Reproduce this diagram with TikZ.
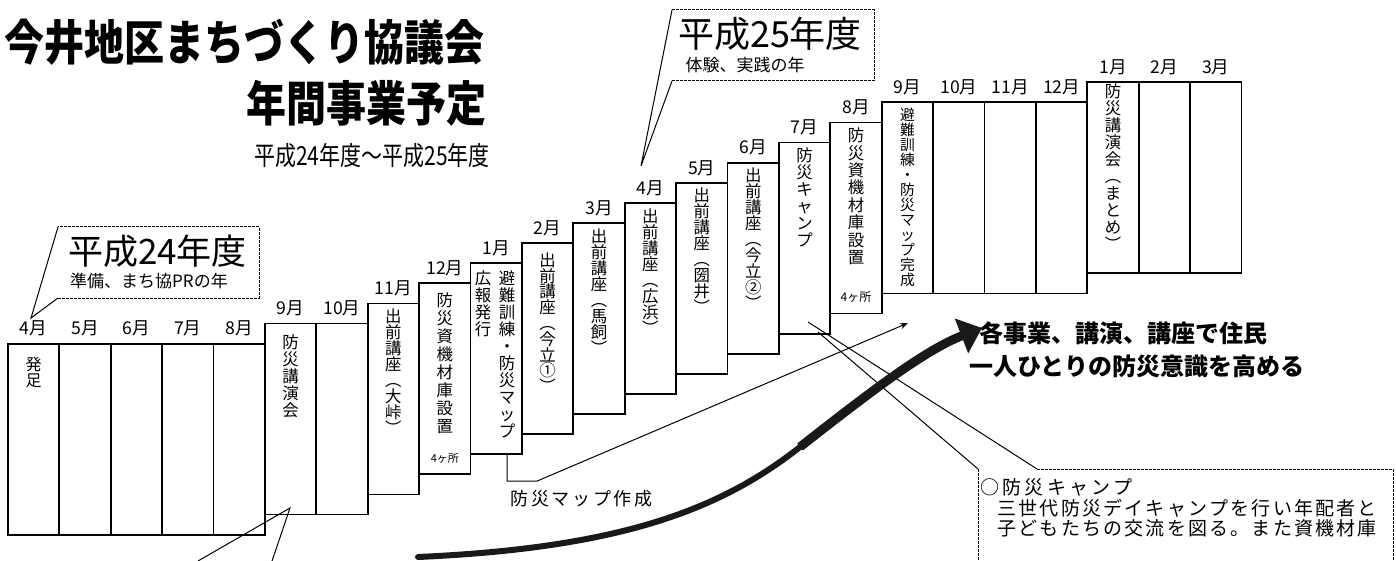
\documentclass[tikz,border=0pt]{standalone}
\usepackage{fontspec}
\usepackage{graphicx}
\setmainfont{Noto Sans CJK JP}
\usetikzlibrary{arrows.meta,positioning}

\newlength\chgap
% vertical text, one glyph per line
\newcommand\vt[2][8.3pt]{\vtop{\baselineskip=#1\lineskiplimit=-20pt\vtloop#2\relax}}
\def\vtloop#1{\ifx#1\relax\else\hbox to 1em{\hss#1\hss}\expandafter\vtloop\fi}
% horizontal text with extra room between glyphs
\newcommand\spreadtext[2]{{\setlength\chgap{#1}\spreadloop#2\relax}}
\def\spreadloop#1{\ifx#1\relax\else#1\kern\chgap\expandafter\spreadloop\fi}

\begin{document}
\begin{tikzpicture}[x=0.5pt,y=-0.5pt,
  monthbox/.style={draw, line width=0.9pt, minimum width=25.7pt, minimum height=95.5pt, inner sep=0pt, anchor=north west},
  monthlabel/.style={font=\fontsize{8.8pt}{9pt}\selectfont, inner sep=0pt},
  boxtext/.style={font=\fontsize{8.2pt}{8.5pt}\selectfont, inner sep=0pt, anchor=north},
  smalltext/.style={font=\fontsize{5.5pt}{6pt}\selectfont, inner sep=0pt},
  notetext/.style={font=\fontsize{9.5pt}{10pt}\selectfont, inner sep=0pt, anchor=west},
  calloutline/.style={line width=0.5pt, dash pattern=on 1.5pt off 0.5pt},
  pointer/.style={line width=0.5pt}]
\useasboundingbox (0,0) rectangle (1396,561);
\clip (0,0) rectangle (1396,561);
\fill[white] (0,0) rectangle (1396,561);

% Title
\node[font=\fontsize{20pt}{22pt}\selectfont\bfseries, anchor=north east, inner sep=0pt] (title1) at (485,19) {\scalebox{1}[1.2]{今井地区まちづくり協議会}};
\node[font=\fontsize{20pt}{22pt}\selectfont\bfseries, anchor=north east, inner sep=0pt] (title2) at (487,80) {\scalebox{1}[1.2]{年間事業予定}};
\node[font=\fontsize{10.5pt}{11pt}\selectfont, inner sep=0pt] (period) at (372,156) {\scalebox{1}[1.25]{平成24年度～平成25年度}};

% Month boxes
\foreach \i/\lv/\mo in {0/0/4月,1/0/5月,2/0/6月,3/0/7月,4/0/8月,5/1/9月,6/1/10月,7/2/11月,8/3/12月,9/4/1月,10/5/2月,11/6/3月,12/7/4月,13/8/5月,14/9/6月,15/10/7月,16/11/8月,17/12/9月,18/12/10月,19/12/11月,20/12/12月,21/13/1月,22/13/2月,23/13/3月}{
  \node[monthbox] (m\i) at ({7+51.4*\i},{342.7-20.1*\lv}) {};
  \node[monthlabel, above=3pt of m\i] (l\i) {\mo};
}

% Events
\node[boxtext, font=\fontsize{8pt}{8pt}\selectfont] (t0) at ([yshift=-7pt]m0.north) {\vt[8pt]{発足}};
\node[boxtext] (t5) at ([yshift=-6pt]m5.north) {\vt[8.5pt]{防災講演会}};
\node[boxtext] (t7) at ([yshift=-3pt]m7.north) {\vt[8pt]{出前講座︵大峠︶}};
\node[boxtext] (t8) at ([yshift=-5pt]m8.north) {\vt[9pt]{防災資機材庫設置}};
\node[smalltext] (n8) at ([yshift=8.5pt]m8.south) {4ヶ所};
\node[boxtext] (t9a) at ([xshift=5.4pt,yshift=-4pt]m9.north) {\vt[8.5pt]{避難訓練・防災マップ}};
\node[boxtext] (t9b) at ([xshift=-6.6pt,yshift=-4pt]m9.north) {\vt[8.5pt]{広報発行}};
\node[boxtext] (t10) at ([yshift=-5pt]m10.north) {\vt[7.9pt]{出前講座︵今立①︶}};
\node[boxtext] (t11) at ([yshift=-3pt]m11.north) {\vt[8pt]{出前講座︵馬飼︶}};
\node[boxtext] (t12) at ([yshift=-3pt]m12.north) {\vt[8pt]{出前講座︵広浜︶}};
\node[boxtext] (t13) at ([yshift=-3pt]m13.north) {\vt[8pt]{出前講座︵圀井︶}};
\node[boxtext] (t14) at ([yshift=-3pt]m14.north) {\vt[8pt]{出前講座︵今立②︶}};
\node[boxtext] (t15) at ([yshift=-3pt]m15.north) {\vt[8.5pt]{防災キャンプ}};
\node[boxtext] (t16) at ([yshift=-3pt]m16.north) {\vt[8.7pt]{防災資機材庫設置}};
\node[smalltext, font=\fontsize{6pt}{6pt}\selectfont] (n16) at ([yshift=8.5pt]m16.south) {4ヶ所};
\node[boxtext, font=\fontsize{7.4pt}{7.5pt}\selectfont] (t17) at ([yshift=-3pt]m17.north) {\vt[7.5pt]{避難訓練・防災マップ完成}};
\node[boxtext] (t21) at ([yshift=-1pt]m21.north) {\vt[8.5pt]{防災講演会︵まとめ︶}};

% Year callouts
\coordinate (tip24) at (31,318);
\draw[calloutline] (58,298) -- (259,298) -- (259,227) -- (58,227);
\draw[pointer] (58,227) -- (tip24) -- (58,298);
\node[font=\fontsize{17.5pt}{18pt}\selectfont, inner sep=0pt] (year24) at (157.5,251) {平成24年度};
\node[font=\fontsize{8.5pt}{9pt}\selectfont, inner sep=0pt] (aim24) at (149,281.5) {準備、まち協PRの年};

\coordinate (tip25) at (641,166);
\draw[calloutline] (672,81) -- (874,81) -- (874,10) -- (672,10);
\draw[pointer] (672,10) -- (tip25) -- (672,81);
\node[font=\fontsize{18pt}{18pt}\selectfont, inner sep=0pt] (year25) at (770,34) {平成25年度};
\node[font=\fontsize{8.5pt}{9pt}\selectfont, inner sep=0pt] (aim25) at (745,65.5) {体験、実践の年};

% Pointer below the September lecture
\coordinate (tip9) at (290,508);
\draw[pointer] (198,561) -- (tip9) -- (272,561);

% Hazard map line
\coordinate (mapend) at (908,323);
\draw[pointer, -{Stealth[length=4pt,width=3pt]}] ([xshift=18.7pt]m9.south west) -- ++(0,26) -- ++(30,0) -- (mapend);
\node[font=\fontsize{9pt}{9pt}\selectfont, inner sep=0pt, anchor=west] (maplabel) at (510,498.5) {\spreadtext{1.35pt}{防災マップ作成}};

% Camp note
\coordinate (campA) at (808,322);
\coordinate (campB) at (818,332);
\draw[pointer] (campA) -- (1037,469);
\draw[pointer] (campB) -- (978,469);
\draw[calloutline] (1037,469) -- (1393,469) -- (1393,575);
\draw[calloutline] (978,469) -- (978,575);
\node[notetext] (camp1) at (980,487.5) {\spreadtext{1.6pt}{○防災キャンプ}};
\node[notetext] (camp2) at (997,508.5) {\spreadtext{1.1pt}{三世代防災デイキャンプを行い年配者と}};
\node[notetext] (camp3) at (997,528.5) {\spreadtext{1.1pt}{子どもたちの交流を図る。また資機材庫}};

% Big arrow
\coordinate (arrowstart) at (418,557);
\coordinate (arrowmid) at (800,447);
\coordinate (arrowtip) at (982,328);
\draw[line width=3pt, black!90, line cap=round] (arrowstart) .. controls (620,548) and (720,510) .. (arrowmid);
\draw[line width=4.5pt, black!90, -{Triangle[length=11pt,width=18pt]}] (arrowmid) .. controls (870,392) and (925,350) .. (arrowtip);
\node[font=\fontsize{12pt}{12pt}\selectfont\bfseries, inner sep=0pt, anchor=west] (goal1) at (979,333.5) {各事業、講演、講座で住民};
\node[font=\fontsize{12pt}{12pt}\selectfont\bfseries, inner sep=0pt, anchor=west] (goal2) at (969,366) {一人ひとりの防災意識を高める};

\end{tikzpicture}
\end{document}
